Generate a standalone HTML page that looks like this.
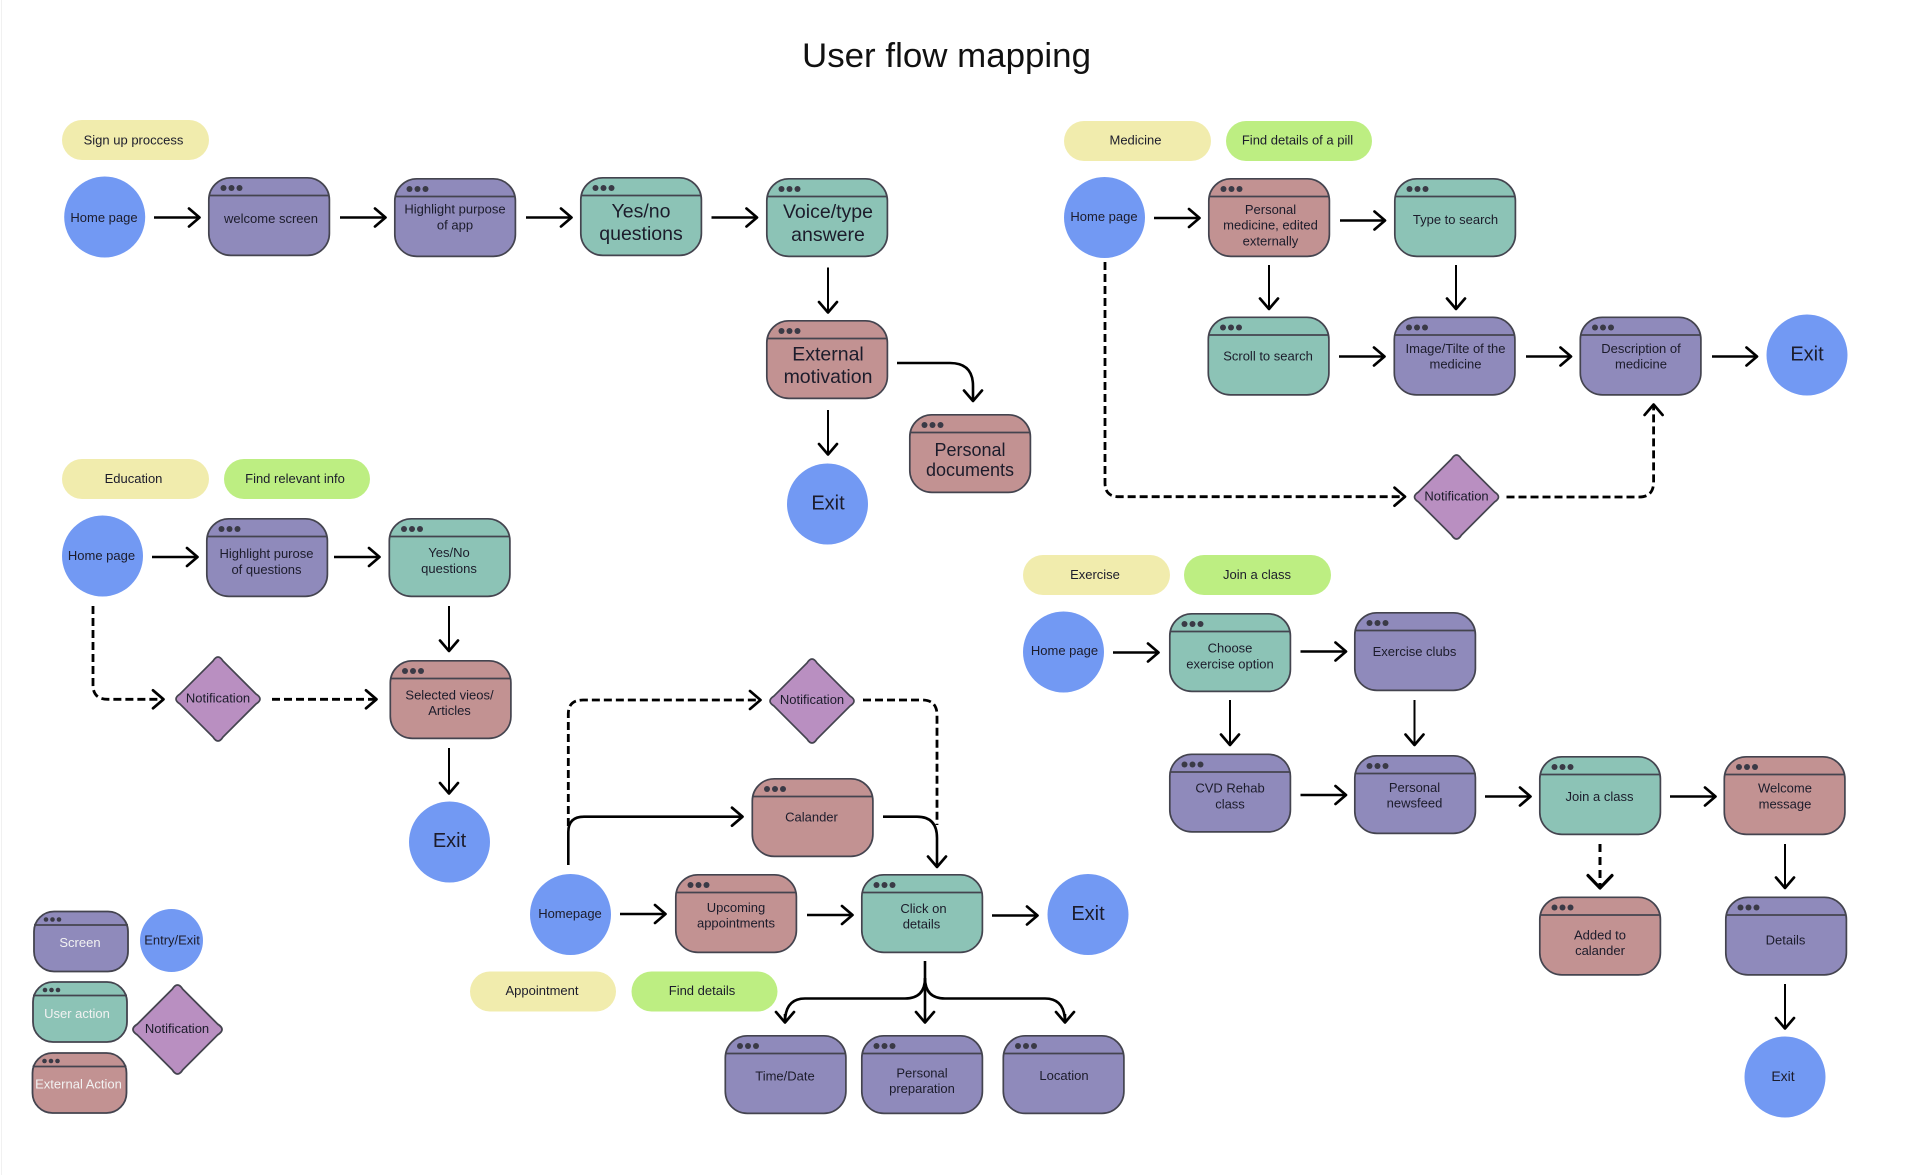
<!DOCTYPE html>
<html lang="en">
<head>
<meta charset="utf-8">
<title>User flow mapping</title>
<style>
html,body{margin:0;padding:0;background:#fff;width:1913px;height:1175px;overflow:hidden}
svg{display:block}
text{font-family:"Liberation Sans",Arial,sans-serif;font-size:13px;fill:#1c1c2b;text-anchor:middle;dominant-baseline:central}
.l{font-size:19.5px}
.m{font-size:18px}
.x{font-size:20px}
.w{fill:#f2f2f2}
.a{fill:none;stroke:#000;stroke-width:2.6;marker-end:url(#h)}
.v{fill:none;stroke:#000;stroke-width:2;marker-end:url(#h)}
.d{fill:none;stroke:#000;stroke-width:2.8;stroke-dasharray:8 4;marker-end:url(#h)}
.n{fill:none;stroke:#000;stroke-width:2.8;stroke-dasharray:8 4}
.s{fill:none;stroke:#000;stroke-width:2.6}
.pu{fill:#8f8abb}.te{fill:#8cc3b6}.re{fill:#c29292}.bl{fill:#7299f3}.di{fill:#b98fc1}.ye{fill:#f1ecad}.gr{fill:#bdee82}
</style>
</head>
<body>
<svg width="1913" height="1175" viewBox="0 0 1913 1175" xmlns="http://www.w3.org/2000/svg">
<defs>
<marker id="h" markerUnits="userSpaceOnUse" markerWidth="30" markerHeight="30" refX="12" refY="10" orient="auto" overflow="visible">
<path d="M1.5 1L12 10L1.5 19" fill="none" stroke="#000" stroke-width="2.7" stroke-linecap="round" stroke-linejoin="round"/>
</marker>
<marker id="h2" markerUnits="userSpaceOnUse" markerWidth="36" markerHeight="36" refX="14" refY="13" orient="auto" overflow="visible">
<path d="M1.5 1L14 13L1.5 25" fill="none" stroke="#000" stroke-width="3.2" stroke-linecap="round" stroke-linejoin="round"/>
</marker>
<g id="b">
<rect x="0.8" y="0.8" width="120.6" height="77.6" rx="22" ry="22" stroke="#44444f" stroke-width="1.7"/>
<line x1="0.8" y1="18.5" x2="121.4" y2="18.5" stroke="#44444f" stroke-width="1.7"/>
<circle cx="15.5" cy="11" r="3" fill="#3a3a46"/><circle cx="23.5" cy="11" r="3" fill="#3a3a46"/><circle cx="31.5" cy="11" r="3" fill="#3a3a46"/>
</g>
<g id="s">
<rect x="0.5" y="0.5" width="94" height="60" rx="20" ry="20" stroke="#44444f" stroke-width="1.8"/>
<line x1="0.5" y1="14" x2="94.5" y2="14" stroke="#44444f" stroke-width="1.8"/>
<circle cx="12.5" cy="8.5" r="2.3" fill="#3a3a46"/><circle cx="19" cy="8.5" r="2.3" fill="#3a3a46"/><circle cx="25.5" cy="8.5" r="2.3" fill="#3a3a46"/>
</g>
<path id="k" d="M-5 -38Q0 -46 5 -38L38 -5Q46 0 38 5L5 38Q0 46 -5 38L-38 5Q-46 0 -38 -5Z" stroke="#44444f" stroke-width="1.7"/>
</defs>

<rect width="1913" height="1175" fill="#fff"/>
<line x1="1.5" y1="0" x2="1.5" y2="1175" stroke="#f1f1f1" stroke-width="1"/>

<text x="946.5" y="56" style="font-size:34px;fill:#111" textLength="289" lengthAdjust="spacingAndGlyphs">User flow mapping</text>

<!-- Sign up -->
<rect class="ye" x="62" y="120" width="147" height="40" rx="20"/><text x="133.5" y="140">Sign up proccess</text>
<circle class="bl" cx="104.7" cy="217" r="40.5"/><text x="104" y="217.5">Home page</text>
<use href="#b" x="208" y="177" class="pu"/><text x="271" y="218.5">welcome screen</text>
<use href="#b" x="394" y="178" class="pu"/><text x="455" y="209">Highlight purpose</text><text x="455" y="225">of app</text>
<use href="#b" x="580" y="177" class="te"/><text class="l" x="641" y="211.5">Yes/no</text><text class="l" x="641" y="234">questions</text>
<use href="#b" x="766" y="178" class="te"/><text class="l" x="828" y="212">Voice/type</text><text class="l" x="828" y="235">answere</text>
<use href="#b" x="766" y="320" class="re"/><text class="l" x="828" y="354.5">External</text><text class="l" x="828" y="377">motivation</text>
<use href="#b" x="909" y="414" class="re"/><text class="m" x="970" y="450">Personal</text><text class="m" x="970" y="470">documents</text>
<circle class="bl" cx="827.5" cy="504" r="40.5"/><text class="x" x="828" y="503.5">Exit</text>
<path class="a" d="M154 217.5H199.5"/>
<path class="a" d="M340 217.5H385.5"/>
<path class="a" d="M526 217.5H571.5"/>
<path class="a" d="M711.5 217.5H757"/>
<path class="v" d="M828 267.5V312.5"/>
<path class="v" d="M828 410V454.5"/>
<path class="a" d="M897 363H950Q973 363 973 386V401"/>

<!-- Education -->
<rect class="ye" x="62" y="459" width="147" height="40" rx="20"/><text x="133.5" y="478.5">Education</text>
<rect class="gr" x="224" y="459" width="146" height="40" rx="20"/><text x="295" y="478.5">Find relevant info</text>
<circle class="bl" cx="102.5" cy="556" r="40.5"/><text x="101.5" y="555.5">Home page</text>
<use href="#b" x="206" y="518" class="pu"/><text x="266.5" y="553.5">Highlight purose</text><text x="266.5" y="569.5">of questions</text>
<use href="#b" x="388.5" y="518" class="te"/><text x="449" y="552.5">Yes/No</text><text x="449" y="568.5">questions</text>
<path class="a" d="M152 557H197.5"/>
<path class="a" d="M334 557H379.5"/>
<path class="v" d="M449 606V651"/>
<path class="d" d="M93 606V685Q93 699.3 108 699.3H163.5"/>
<use href="#k" x="218" y="699" class="di"/><text x="218" y="698">Notification</text>
<path class="d" d="M272 699.3H376.5"/>
<use href="#b" x="389.5" y="660" class="re"/><text x="449.5" y="695">Selected vieos/</text><text x="449.5" y="710.5">Articles</text>
<path class="v" d="M449 748V793.5"/>
<circle class="bl" cx="449.5" cy="842" r="40.5"/><text class="x" x="449.5" y="841">Exit</text>

<!-- Legend -->
<use href="#s" x="33.5" y="911" class="pu"/><text class="w" x="80" y="942.5">Screen</text>
<ellipse class="bl" cx="171.5" cy="940.5" rx="31.5" ry="31.5"/><text x="172" y="940">Entry/Exit</text>
<use href="#s" x="32.5" y="981.5" class="te"/><text class="w" x="77" y="1013.5">User action</text>
<use href="#s" x="32" y="1052.5" class="re"/><text class="w" x="78.5" y="1084">External Action</text>
<g transform="translate(177.5 1029.5) scale(1.06)"><use href="#k" class="di"/></g><text x="177" y="1028.5">Notification</text>

<!-- Appointment -->
<path class="d" d="M568.3 826V714Q568.3 700 583 700H760.5"/>
<use href="#k" x="812" y="701" class="di"/><text x="812" y="699.5">Notification</text>
<path class="n" d="M863 700H922Q937 700 937 715V825"/>
<use href="#b" x="751.5" y="778" class="re"/><text x="811.5" y="817">Calander</text>
<path class="a" d="M568.3 865V832Q568.3 816.7 584 816.7H742.5"/>
<path class="a" d="M883 816.7H917Q937 816.7 937 838V867"/>
<circle class="bl" cx="570.5" cy="914.5" r="40.5"/><text x="570" y="913.5">Homepage</text>
<use href="#b" x="675" y="874" class="re"/><text x="736" y="907.5">Upcoming</text><text x="736" y="923">appointments</text>
<use href="#b" x="861" y="874" class="te"/><text x="923.5" y="908.5">Click on</text><text x="921.5" y="924">details</text>
<circle class="bl" cx="1088" cy="914.5" r="40.5"/><text class="x" x="1088" y="914">Exit</text>
<path class="a" d="M620 914H665.5"/>
<path class="a" d="M807 915H852.5"/>
<path class="a" d="M992 915.5H1037.5"/>
<rect class="ye" x="470" y="971.5" width="146" height="40" rx="20"/><text x="542" y="990.5">Appointment</text>
<rect class="gr" x="631.5" y="971.5" width="146" height="40" rx="20"/><text x="702" y="990.5">Find details</text>
<path class="a" d="M925 961V1022.5"/>
<path class="s" d="M925 978Q925 998.5 905 998.5H805Q785 998.5 785 1022.5"/>
<path class="s" d="M925 978Q925 998.5 945 998.5H1045Q1065 998.5 1065 1022.5"/>
<path class="a" d="M785 1014V1022.5"/>
<path class="a" d="M1065 1014V1022.5"/>
<use href="#b" x="724.5" y="1035" class="pu"/><text x="785" y="1076">Time/Date</text>
<use href="#b" x="861" y="1035" class="pu"/><text x="922" y="1073">Personal</text><text x="922" y="1088.5">preparation</text>
<use href="#b" x="1002.5" y="1035" class="pu"/><text x="1064" y="1075.5">Location</text>

<!-- Medicine -->
<rect class="ye" x="1064" y="121" width="147" height="40" rx="20"/><text x="1135.5" y="140">Medicine</text>
<rect class="gr" x="1226" y="121" width="146" height="40" rx="20"/><text x="1297.5" y="140">Find details of a pill</text>
<circle class="bl" cx="1104.5" cy="217.5" r="40.5"/><text x="1104" y="216.5">Home page</text>
<use href="#b" x="1208" y="178" class="re"/><text x="1270.5" y="209.5">Personal</text><text x="1270.5" y="225">medicine, edited</text><text x="1270.5" y="241">externally</text>
<use href="#b" x="1394" y="178" class="te"/><text x="1455.5" y="219.5">Type to search</text>
<use href="#b" x="1207.5" y="316.5" class="te"/><text x="1268" y="356">Scroll to search</text>
<use href="#b" x="1393.5" y="316.5" class="pu"/><text x="1455.5" y="348.5">Image/Tilte of the</text><text x="1455.5" y="364">medicine</text>
<use href="#b" x="1579.5" y="316.5" class="pu"/><text x="1641" y="348.5">Description of</text><text x="1641" y="364">medicine</text>
<circle class="bl" cx="1807" cy="355" r="40.5"/><text class="x" x="1807" y="354.5">Exit</text>
<path class="a" d="M1154 218H1199.5"/>
<path class="a" d="M1340 220.5H1385"/>
<path class="v" d="M1269 265V309"/>
<path class="v" d="M1456 265V309"/>
<path class="a" d="M1339 356.5H1384.5"/>
<path class="a" d="M1526 356.5H1571"/>
<path class="a" d="M1712 356.5H1757"/>
<path class="d" d="M1105 262V483Q1105 496.7 1119 496.7H1405"/>
<use href="#k" x="1456.5" y="497" class="di"/><text x="1456.5" y="496">Notification</text>
<path class="d" d="M1506.5 497H1639Q1653.6 497 1653.6 482V404.5"/>

<!-- Exercise -->
<rect class="ye" x="1023" y="555" width="147" height="40" rx="20"/><text x="1095" y="574.5">Exercise</text>
<rect class="gr" x="1184" y="555" width="147" height="40" rx="20"/><text x="1257" y="574.5">Join a class</text>
<circle class="bl" cx="1063.5" cy="652" r="40.5"/><text x="1064.5" y="650.5">Home page</text>
<use href="#b" x="1169" y="613" class="te"/><text x="1230" y="648">Choose</text><text x="1230" y="664">exercise option</text>
<use href="#b" x="1354" y="612" class="pu"/><text x="1414.5" y="651.5">Exercise clubs</text>
<use href="#b" x="1169" y="753.5" class="pu"/><text x="1230" y="788">CVD Rehab</text><text x="1230" y="804">class</text>
<use href="#b" x="1354" y="755" class="pu"/><text x="1414.5" y="787.5">Personal</text><text x="1414.5" y="803">newsfeed</text>
<use href="#b" x="1539" y="756" class="te"/><text x="1599.5" y="796.5">Join a class</text>
<use href="#b" x="1723.5" y="756" class="re"/><text x="1785" y="788">Welcome</text><text x="1785" y="804">message</text>
<use href="#b" x="1539" y="896.5" class="re"/><text x="1600" y="935">Added to</text><text x="1600" y="950.5">calander</text>
<use href="#b" x="1725" y="896.5" class="pu"/><text x="1785.5" y="940">Details</text>
<circle class="bl" cx="1785" cy="1077" r="40.5"/><text style="font-size:14px" x="1783" y="1076">Exit</text>
<path class="a" d="M1113 652.5H1158.5"/>
<path class="a" d="M1300.5 651.5H1346"/>
<path class="v" d="M1230 700V745"/>
<path class="v" d="M1414.5 700V745"/>
<path class="a" d="M1300.5 795H1346"/>
<path class="a" d="M1485 796.5H1530.5"/>
<path class="a" d="M1670 796.5H1715.5"/>
<path style="fill:none;stroke:#000;stroke-width:3;stroke-dasharray:8 5;marker-end:url(#h2)" d="M1600 844V888"/>
<path class="v" d="M1785 844V888"/>
<path class="v" d="M1785 984V1028.5"/>
</svg>
</body>
</html>
